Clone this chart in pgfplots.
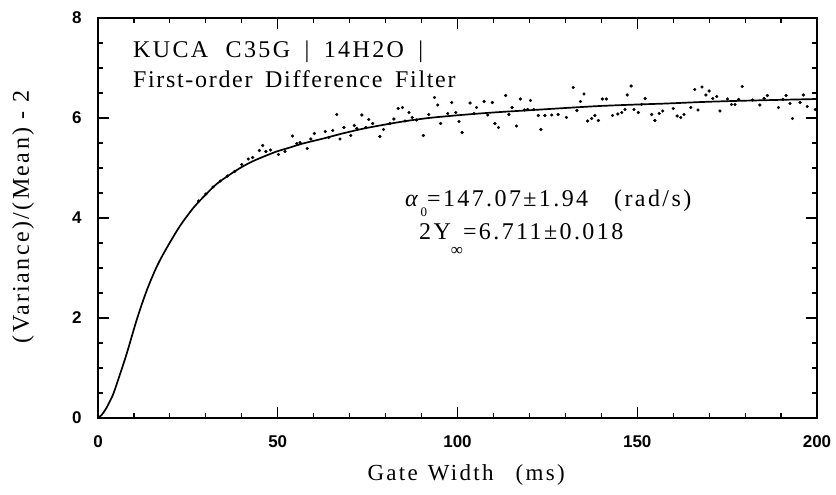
\documentclass[border=0pt]{standalone}
\usepackage{fontspec}
\setmainfont[LetterSpace=10]{Liberation Serif}
\newfontfamily\narrowfont[LetterSpace=7]{Liberation Serif}
\setsansfont{Liberation Sans}
\usepackage{pgfplots}
\pgfplotsset{compat=1.18}

\pgfplotstableread{
T Y
0 0
1 0.06
2 0.16
3 0.29
4.3 0.49
6 0.85
8 1.29
10.8 1.97
13.5 2.54
16.3 3.02
19.1 3.40
22.8 3.84
26.5 4.20
30 4.47
33 4.68
36.7 4.87
40 5.02
43.2 5.14
46.5 5.24
49.7 5.33
53.4 5.41
57 5.49
62.7 5.59
68 5.69
74.7 5.80
84 5.92
92 6.00
102.6 6.07
112 6.12
121.1 6.16
130 6.20
139.6 6.24
150 6.27
158.2 6.29
168 6.32
176.7 6.34
188 6.36
200 6.38
}\fitcurve

\pgfplotstableread{
T Y
28 4.34
30 4.48
32 4.62
34 4.74
36 4.84
38 4.93
40.0 5.07
41.8 5.18
43.0 5.21
44.9 5.35
45.8 5.45
46.7 5.33
48.0 5.36
50.2 5.27
52.0 5.33
54.1 5.64
55.3 5.49
56.2 5.51
58.2 5.39
59.2 5.58
60.2 5.69
63.2 5.73
64.2 5.61
65.3 5.75
66.4 6.07
67.3 5.58
68.4 5.81
70.3 5.65
71.3 5.85
72.0 5.79
73.4 6.06
74.5 5.81
75.3 5.97
76.4 5.89
78.4 5.63
79.4 5.77
81.2 5.89
82.3 5.98
83.5 6.19
84.7 6.21
85.4 5.94
86.5 6.11
87.4 6.01
88.6 5.96
90.5 5.65
92.0 6.07
93.6 6.41
94.5 6.26
95.3 5.89
97.3 6.09
98.4 6.31
99.5 6.11
100.4 5.93
101.3 5.71
103.5 6.30
104.6 6.09
105.3 6.21
107.4 6.33
108.4 6.06
109.7 6.31
110.4 5.89
111.4 5.81
113.4 6.45
114.3 6.07
115.2 6.21
116.4 5.84
117.5 6.38
118.6 6.16
119.5 6.17
120.3 6.35
121.2 6.17
122.5 6.05
123.2 5.77
124.3 6.05
126.2 6.06
128.0 6.07
130.3 6.01
132.2 6.61
133.2 6.15
134.2 6.33
135.2 6.48
136.2 5.94
137.3 5.99
138.2 6.05
139.2 5.95
140.3 6.38
141.4 6.38
143.1 6.05
144.6 6.08
145.7 6.11
146.6 6.17
147.2 6.46
148.3 6.64
149.1 6.17
150.3 6.11
151.2 6.27
152.2 6.39
154.0 6.07
154.9 5.95
156.1 6.09
157.1 6.14
160.0 6.19
161.1 6.04
162.1 6.01
163.0 6.07
164.9 6.21
166.0 6.57
166.9 6.16
168.0 6.62
169.1 6.46
170.0 6.54
171.0 6.39
172.1 6.43
173.0 6.14
175.1 6.38
176.2 6.27
177.2 6.27
178.2 6.37
179.2 6.63
182.1 6.36
184.1 6.26
185.3 6.39
186.2 6.45
189.3 6.21
190.5 6.37
191.4 6.45
192.5 6.29
193.2 5.99
195.3 6.31
196.2 6.46
197.3 6.23
199.5 6.17
}\dots

\begin{document}
\begin{tikzpicture}
\useasboundingbox (-98pt,-77pt) rectangle (738pt,418pt);
\begin{axis}[
  at={(0pt,0pt)}, anchor=south west,
  scale only axis, width=719pt, height=400pt,
  xmin=0, xmax=200, ymin=0, ymax=8,
  xtick={0,50,100,150,200}, minor x tick num=4,
  ytick={0,2,4,6,8}, minor y tick num=3,
  tick align=inside,
  major tick length=11pt, minor tick length=5pt,
  axis line style={line width=1.4pt},
  every tick/.style={black, line width=1.2pt},
  ticklabel style={font=\fontsize{17}{17}\selectfont\sffamily\bfseries},
  /pgf/number format/assume math mode=true,
  xticklabel style={yshift=-14pt},
  yticklabel style={xshift=-13pt},
  clip=false,
]
\addplot[only marks, mark=*, mark size=1.4pt, black] table[x=T,y=Y]{\dots};
\addplot[black, line width=1.7pt, smooth] table[x=T,y=Y]{\fitcurve};

\node[inner sep=0pt, anchor=base west, font=\fontsize{24}{28}\selectfont] at (axis cs:9.7,7.2) {KUCA\hspace{9pt} C35G\hspace{6pt} |\hspace{6pt} 14H2O\hspace{6pt} |};
\node[inner sep=0pt, anchor=base west, font=\fontsize{24}{28}\narrowfont] at (axis cs:9.7,6.6) {First-order\hspace{5pt} Difference\hspace{5pt} Filter};

\node[inner sep=0pt, anchor=base west, font=\fontsize{24}{28}\selectfont] at (axis cs:85.4,4.22) {\textit{α}\raisebox{-10pt}{\fontsize{13}{13}\selectfont 0}=147.07±1.94\hspace{26pt}(rad/s)};
\node[inner sep=0pt, anchor=base west, font=\fontsize{24}{28}\selectfont] at (axis cs:89.3,3.56) {2Y\raisebox{-16pt}{\fontsize{17}{17}\selectfont ∞}=6.711±0.018};

\node[rotate=90, font=\fontsize{24}{24}\selectfont] at (axis description cs:-0.1043,0.5025) {(Variance)/(Mean) - 2};
\node[inner sep=0pt, anchor=base, font=\fontsize{23}{23}\selectfont] at (axis description cs:0.512,-0.1575) {Gate\hspace{10pt}Width\hspace{22pt}(ms)};
\end{axis}
\end{tikzpicture}
\end{document}
